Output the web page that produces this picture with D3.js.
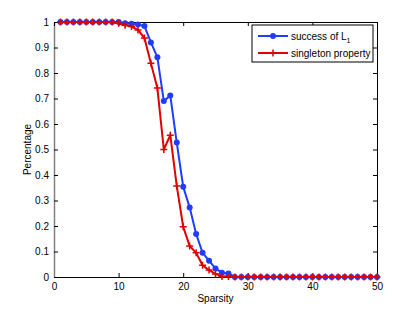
<!DOCTYPE html>
<html lang="en">
<head>
  <meta charset="utf-8">
  <title>Sparsity vs Percentage</title>
  <script src="https://d3js.org/d3.v7.min.js"></script>
  <style>
    body { margin: 0; background: #fff; }
    svg { font-family: "Liberation Sans", Arial, sans-serif; }
    .tick text { font-size: 10px; fill: #000; }
  </style>
</head>
<body>
<script>
  // sparsity values 1..50
  const sparsity = d3.range(1, 51);

  // success of L1 (blue circles)
  const successL1 = [
    1, 1, 1, 1, 1, 1, 1, 1, 1, 1,
    0.995, 0.993, 0.99, 0.984, 0.92, 0.862, 0.69, 0.712, 0.527, 0.354,
    0.273, 0.169, 0.095, 0.064, 0.033, 0.017, 0.014, 0, 0, 0,
    0, 0, 0, 0, 0, 0, 0, 0, 0, 0,
    0, 0, 0, 0, 0, 0, 0, 0, 0, 0
  ];

  // singleton property (red plus)
  const singleton = [
    1, 1, 1, 1, 1, 1, 1, 1, 1, 0.995,
    0.987, 0.982, 0.969, 0.937, 0.838, 0.741, 0.50, 0.556, 0.357, 0.197,
    0.122, 0.095, 0.046, 0.027, 0.012, 0.002, 0.002, 0, 0, 0,
    0, 0, 0, 0, 0, 0, 0, 0, 0, 0,
    0, 0, 0, 0, 0, 0, 0, 0, 0, 0
  ];

  const seriesNames = ["success of L", "singleton property"];
  const xTicks = [0, 10, 20, 30, 40, 50];
  const yTicks = [0, 0.1, 0.2, 0.3, 0.4, 0.5, 0.6, 0.7, 0.8, 0.9, 1];

  const width = 415, height = 312;
  const margin = { top: 22, right: 38, bottom: 35, left: 54 };
  const blue = "#1f3cff", red = "#e00000";

  const svg = d3.select("body").append("svg")
    .attr("width", width)
    .attr("height", height);

  const x = d3.scaleLinear().domain([0, 50]).range([margin.left, width - margin.right]);
  const y = d3.scaleLinear().domain([0, 1]).range([height - margin.bottom, margin.top]);

  // axes with inward ticks, matlab style
  const xAxis = svg.append("g")
    .attr("transform", "translate(0," + (height - margin.bottom) + ")")
    .call(d3.axisBottom(x).tickValues(xTicks).tickSizeInner(-4).tickSizeOuter(0).tickPadding(6));
  const yAxis = svg.append("g")
    .attr("transform", "translate(" + margin.left + ",0)")
    .call(d3.axisLeft(y).tickValues(yTicks).tickFormat(d => d3.format("")(+d.toFixed(1))).tickSizeInner(-4).tickSizeOuter(0).tickPadding(5));
  svg.append("g")
    .attr("transform", "translate(0," + margin.top + ")")
    .call(d3.axisTop(x).tickValues(xTicks).tickSizeInner(-4).tickSizeOuter(0).tickFormat(""));
  svg.append("g")
    .attr("transform", "translate(" + (width - margin.right) + ",0)")
    .call(d3.axisRight(y).tickValues(yTicks).tickSizeInner(-4).tickSizeOuter(0).tickFormat(""));

  svg.selectAll(".domain").attr("stroke", "#000");
  svg.selectAll(".tick line").attr("stroke", "#000");
  yAxis.select(".domain").attr("stroke", "#808080").attr("stroke-width", 1.5);

  // axis labels
  svg.append("text")
    .attr("x", (margin.left + width - margin.right) / 2)
    .attr("y", height - 10)
    .attr("text-anchor", "middle")
    .attr("font-size", 10)
    .text("Sparsity");
  svg.append("text")
    .attr("transform", "translate(31," + ((margin.top + height - margin.bottom) / 2) + ") rotate(-90)")
    .attr("text-anchor", "middle")
    .attr("font-size", 10)
    .text("Percentage");

  const line = d3.line().x((d, i) => x(sparsity[i])).y(d => y(d));

  // blue series
  svg.append("path")
    .datum(successL1)
    .attr("fill", "none")
    .attr("stroke", blue)
    .attr("stroke-width", 2)
    .attr("d", line);
  svg.selectAll(".dot")
    .data(successL1)
    .enter().append("circle")
    .attr("cx", (d, i) => x(sparsity[i]))
    .attr("cy", d => y(d))
    .attr("r", 3)
    .attr("fill", blue);

  // red series
  svg.append("path")
    .datum(singleton)
    .attr("fill", "none")
    .attr("stroke", red)
    .attr("stroke-width", 2)
    .attr("d", line);
  const plus = d3.symbol().type(d3.symbolCross).size(0);
  svg.selectAll(".plus")
    .data(singleton)
    .enter().append("path")
    .attr("fill", "none")
    .attr("stroke", red)
    .attr("stroke-width", 1.5)
    .attr("d", (d, i) => {
      const cx = x(sparsity[i]), cy = y(d);
      return `M${cx - 3.5},${cy}H${cx + 3.5}M${cx},${cy - 3.5}V${cy + 3.5}`;
    });

  // legend
  const lg = svg.append("g");
  lg.append("rect")
    .attr("x", 252).attr("y", 25)
    .attr("width", 121).attr("height", 37)
    .attr("fill", "#fff").attr("stroke", "#000").attr("stroke-width", 1);

  const items = [
    { name: seriesNames[0], color: blue, marker: "circle", yy: 36 },
    { name: seriesNames[1], color: red, marker: "plus", yy: 53 }
  ];
  items.forEach(it => {
    lg.append("line")
      .attr("x1", 258).attr("x2", 288)
      .attr("y1", it.yy).attr("y2", it.yy)
      .attr("stroke", it.color).attr("stroke-width", 2);
    if (it.marker === "circle") {
      lg.append("circle").attr("cx", 273).attr("cy", it.yy).attr("r", 3).attr("fill", it.color);
    } else {
      lg.append("path")
        .attr("d", `M269.5,${it.yy}H276.5M273,${it.yy - 3.5}V${it.yy + 3.5}`)
        .attr("stroke", it.color).attr("stroke-width", 1.5);
    }
    const t = lg.append("text")
      .attr("x", 291).attr("y", it.yy + 3.5)
      .attr("font-size", 10)
      .text(it.name);
    if (it.marker === "circle") {
      t.append("tspan").attr("dy", 3).attr("font-size", 7).text("1");
    }
  });
</script>
</body>
</html>
